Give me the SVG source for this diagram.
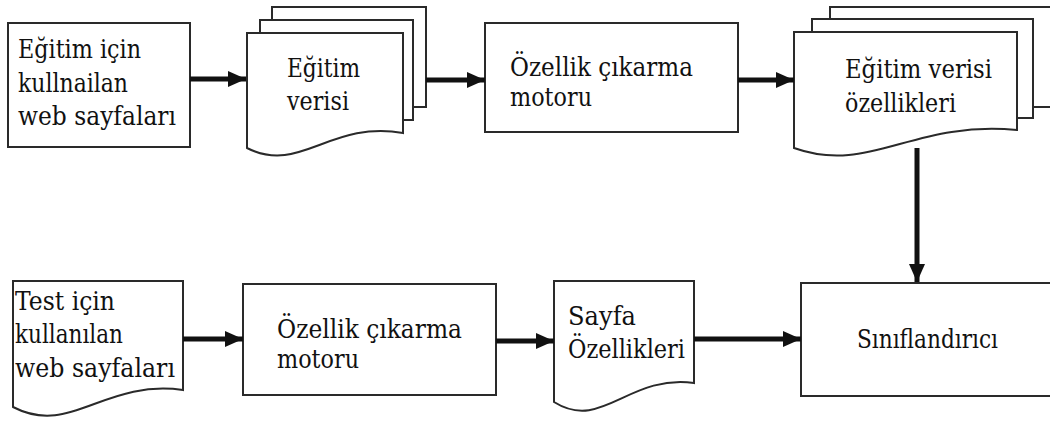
<svg xmlns="http://www.w3.org/2000/svg" width="1050" height="421" viewBox="0 0 1050 421">
  <style>
    .shape { fill: #fff; stroke: #2a2a2a; stroke-width: 2; }
    .label { font-family: "DejaVu Serif", serif; font-size: 26px; fill: #111; }
    .conn { stroke: #111; stroke-width: 5; fill: none; }
  </style>
  <defs>
    <marker id="head" markerUnits="userSpaceOnUse" markerWidth="18" markerHeight="18" viewBox="0 0 18 18" refX="18" refY="9" orient="auto">
      <path d="M0,1 L18,9 L0,17 Z" fill="#111"/>
    </marker>
  </defs>
  <rect width="1050" height="421" fill="#fff"/>

  <!-- top row -->
  <g id="egitim-sayfalari">
    <rect class="shape" x="8" y="23" width="182" height="124"/>
    <text class="label" x="18" y="58" textLength="123" lengthAdjust="spacingAndGlyphs">Eğitim için</text>
    <text class="label" x="18" y="92" textLength="110" lengthAdjust="spacingAndGlyphs">kullnailan</text>
    <text class="label" x="18" y="125" textLength="158" lengthAdjust="spacingAndGlyphs">web sayfaları</text>
  </g>

  <g id="egitim-verisi">
    <rect class="shape" x="272" y="7" width="154" height="100"/>
    <rect class="shape" x="260" y="20" width="153" height="100"/>
    <path class="shape" d="M247,33 H403 V133 C330,120 300,175 247,148 Z"/>
    <text class="label" x="287" y="77" textLength="73" lengthAdjust="spacingAndGlyphs">Eğitim</text>
    <text class="label" x="287" y="110" textLength="62" lengthAdjust="spacingAndGlyphs">verisi</text>
  </g>

  <g id="ozellik-motoru-1">
    <rect class="shape" x="485" y="23" width="253" height="109"/>
    <text class="label" x="510" y="76" textLength="183" lengthAdjust="spacingAndGlyphs">Özellik çıkarma</text>
    <text class="label" x="510" y="106" textLength="82" lengthAdjust="spacingAndGlyphs">motoru</text>
  </g>

  <g id="egitim-verisi-ozellikleri">
    <rect class="shape" x="830" y="7" width="240" height="100"/>
    <rect class="shape" x="812" y="19" width="221" height="99"/>
    <path class="shape" d="M794,32 H1017 V130 C912,120 870,175 794,148 Z"/>
    <text class="label" x="845" y="78" textLength="147" lengthAdjust="spacingAndGlyphs">Eğitim verisi</text>
    <text class="label" x="845" y="112" textLength="111" lengthAdjust="spacingAndGlyphs">özellikleri</text>
  </g>

  <!-- bottom row -->
  <g id="test-sayfalari">
    <path class="shape" d="M13,281 H183 V390 C103,379 71,437 13,407 Z"/>
    <text class="label" x="15" y="310" textLength="100" lengthAdjust="spacingAndGlyphs">Test için</text>
    <text class="label" x="15" y="343" textLength="108" lengthAdjust="spacingAndGlyphs">kullanılan</text>
    <text class="label" x="15" y="377" textLength="160" lengthAdjust="spacingAndGlyphs">web sayfaları</text>
  </g>

  <g id="ozellik-motoru-2">
    <rect class="shape" x="243" y="284" width="253" height="111"/>
    <text class="label" x="277" y="338" textLength="185" lengthAdjust="spacingAndGlyphs">Özellik çıkarma</text>
    <text class="label" x="277" y="368" textLength="82" lengthAdjust="spacingAndGlyphs">motoru</text>
  </g>

  <g id="sayfa-ozellikleri">
    <path class="shape" d="M554,281 H694 V383 C628,374 602,432 554,402 Z"/>
    <text class="label" x="568" y="325" textLength="68" lengthAdjust="spacingAndGlyphs">Sayfa</text>
    <text class="label" x="568" y="358" textLength="117" lengthAdjust="spacingAndGlyphs">Özellikleri</text>
  </g>

  <g id="siniflandirici">
    <rect class="shape" x="801" y="283" width="270" height="113"/>
    <text class="label" x="857" y="348" textLength="141" lengthAdjust="spacingAndGlyphs">Sınıflandırıcı</text>
  </g>

  <!-- connectors -->
  <g id="connectors">
    <line class="conn" x1="190" y1="79" x2="246" y2="79" marker-end="url(#head)"/>
    <line class="conn" x1="426" y1="80" x2="485" y2="80" marker-end="url(#head)"/>
    <line class="conn" x1="738" y1="80" x2="794" y2="80" marker-end="url(#head)"/>
    <line class="conn" x1="917" y1="148" x2="917" y2="282" marker-end="url(#head)"/>
    <line class="conn" x1="183" y1="339" x2="243" y2="339" marker-end="url(#head)"/>
    <line class="conn" x1="496" y1="341" x2="554" y2="341" marker-end="url(#head)"/>
    <line class="conn" x1="694" y1="339" x2="801" y2="339" marker-end="url(#head)"/>
  </g>
</svg>
